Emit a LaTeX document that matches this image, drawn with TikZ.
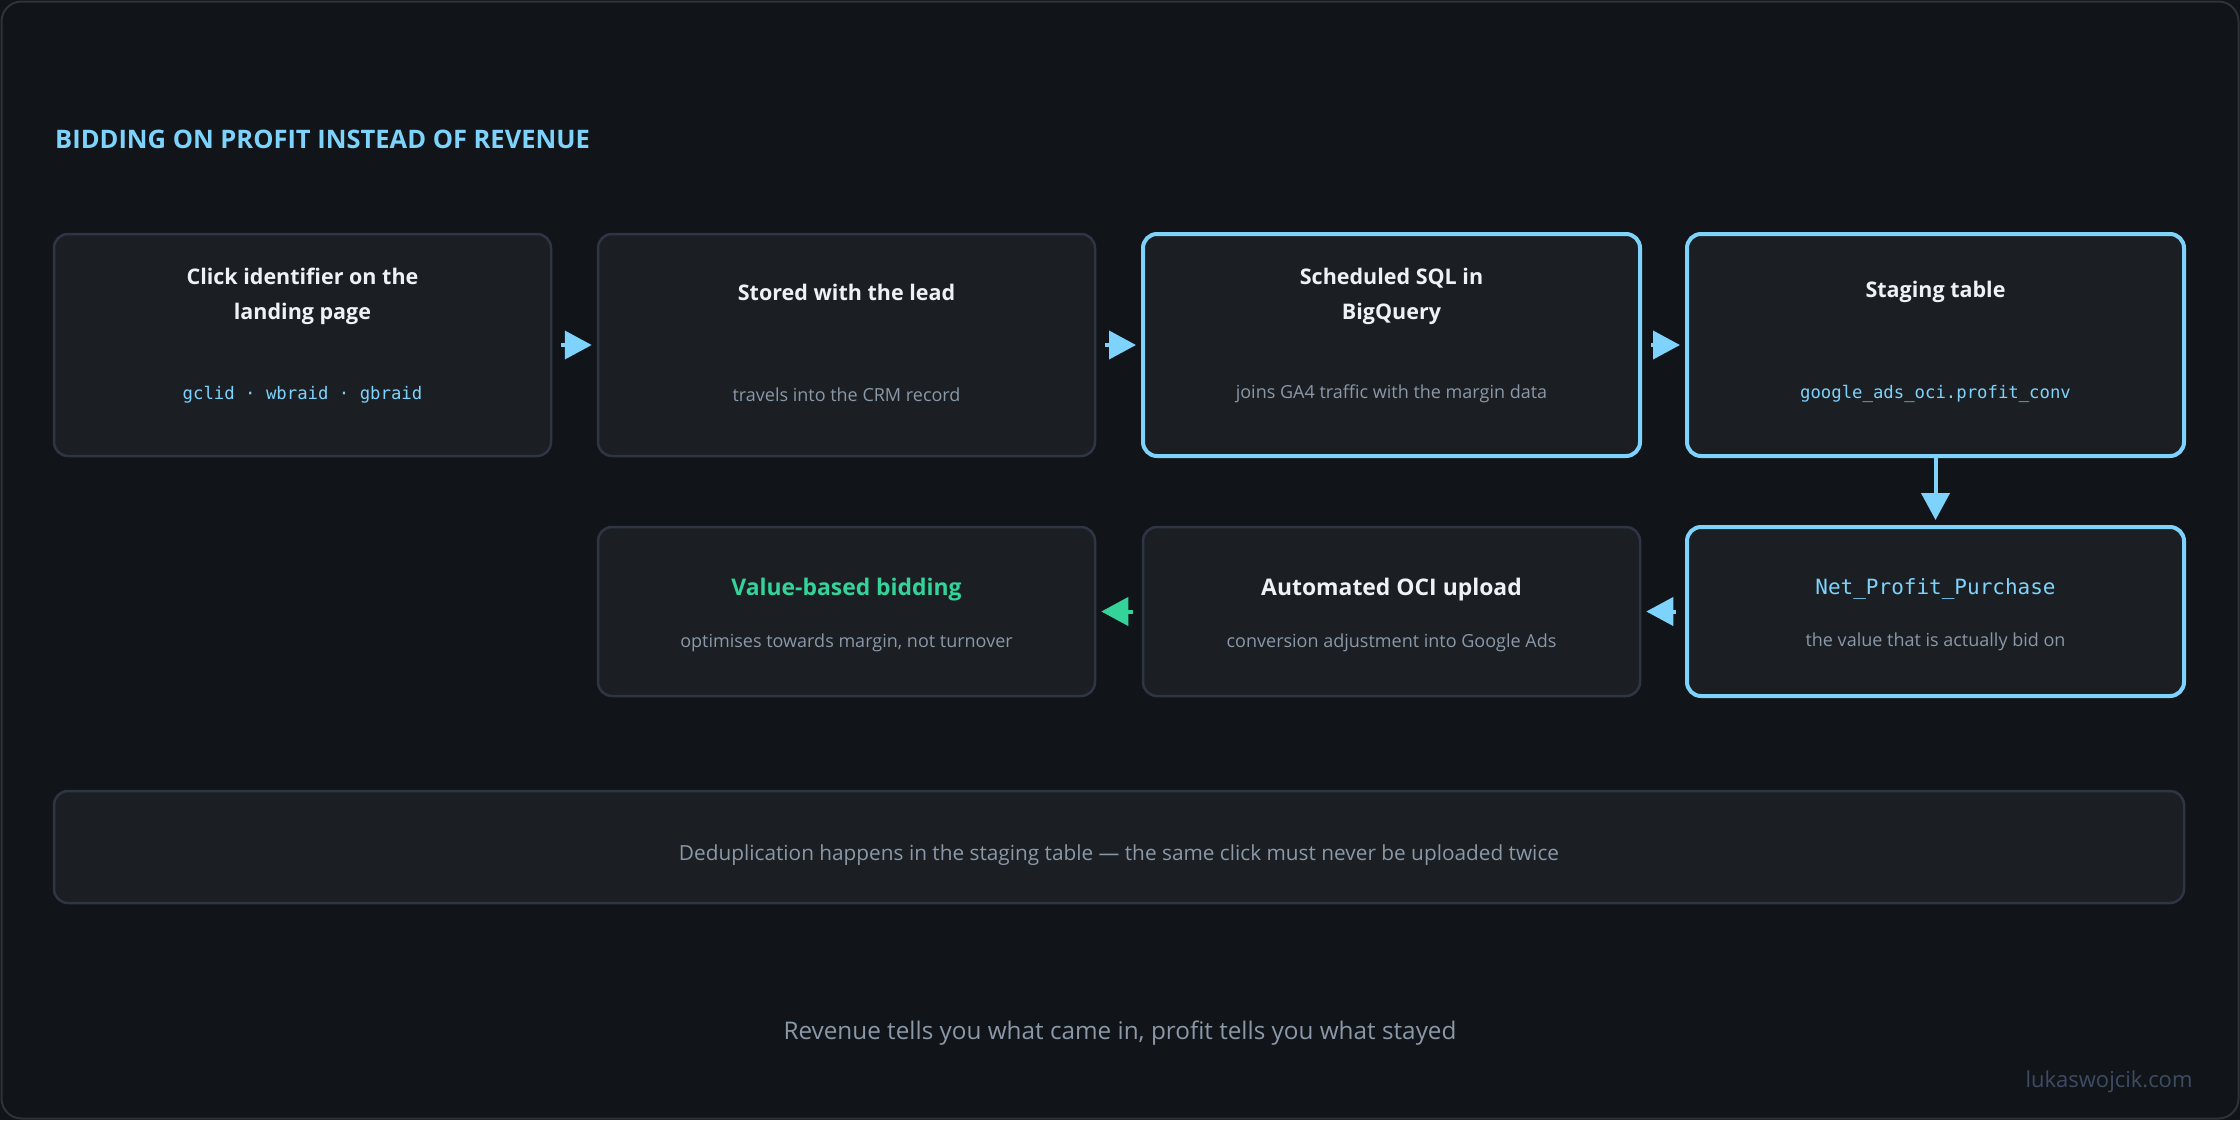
\documentclass[tikz,border=0pt]{standalone}
\usepackage{fontspec}
\setmainfont{Open Sans}
\newfontfamily\codefont{DejaVu Sans Mono}
\usetikzlibrary{arrows.meta}
% 配色
\definecolor{pagebg}{HTML}{111418}
\definecolor{framecol}{HTML}{2D333B}
\definecolor{cardbg}{HTML}{1B1F23}
\definecolor{cardline}{HTML}{2E3646}
\definecolor{sky}{HTML}{7DD3FC}
\definecolor{mint}{HTML}{34D399}
\definecolor{ink}{HTML}{EEF2F6}
\definecolor{muted}{HTML}{8B98A8}
\definecolor{faint}{HTML}{3E4C63}
\begin{document}
\begin{tikzpicture}[x=1pt,y=-1pt,
    card/.style={draw=cardline,line width=2.5pt,fill=cardbg,rounded corners=14pt,
      minimum width=497pt,minimum height=222pt,inner sep=0pt},
    hotcard/.style={card,draw=sky,line width=4pt},
    lowrow/.style={minimum height=169pt},
    head/.style={text=ink,font=\bfseries\fontsize{21.5}{35}\selectfont,align=center},
    bighead/.style={head,font=\bfseries\fontsize{22.9}{35}\selectfont},
    note/.style={text=muted,font=\fontsize{18}{22}\selectfont},
    code/.style={text=sky,font=\codefont\fontsize{17.3}{20}\selectfont},
    flow/.style={draw=sky,line width=4pt,-{Triangle[length=27pt,width=28pt]},
      shorten <=9pt,shorten >=5pt}]
    % 背景与外框
    \useasboundingbox (0,0) rectangle (2240,1120);
    \fill[pagebg] (0,0) rectangle (2240,1120);
    \draw[framecol,line width=2pt,rounded corners=20pt] (1.5,1.5) rectangle (2238.5,1118.5);

    \node[anchor=west,inner sep=0pt,text=sky,font=\bfseries\fontsize{25.5}{30}\selectfont] (title) at (55,139)
        {BIDDING ON PROFIT INSTEAD OF REVENUE};

    % 第一行
    \node[card] (click) at (302.5,345) {};
    \node[card] (stored) at (846.5,345) {};
    \node[hotcard] (sql) at (1391.5,345) {};
    \node[hotcard] (staging) at (1935.5,345) {};
    % 第二行
    \node[card,lowrow] (bidding) at (846.5,611.5) {};
    \node[card,lowrow] (upload) at (1391.5,611.5) {};
    \node[hotcard,lowrow] (netprofit) at (1935.5,611.5) {};

    \node[head] (click-h) at ([yshift=-64pt]click.north) {Click identifier on the\\landing page};
    \node[code] (click-s) at ([yshift=-162pt]click.north) {gclid · wbraid · gbraid};
    \node[head] (stored-h) at ([yshift=-60pt]stored.north) {Stored with the lead};
    \node[note] (stored-s) at ([yshift=-162pt]stored.north) {travels into the CRM record};
    \node[head] (sql-h) at ([yshift=-64pt]sql.north) {Scheduled SQL in\\BigQuery};
    \node[note] (sql-s) at ([yshift=-162pt]sql.north) {joins GA4 traffic with the margin data};
    \node[head] (staging-h) at ([yshift=-60pt]staging.north) {Staging table};
    \node[code] (staging-s) at ([yshift=-162pt]staging.north) {google\_ads\_oci.profit\_conv};

    \node[bighead,text=mint] (bidding-h) at ([yshift=-64pt]bidding.north) {Value-based bidding};
    \node[note] (bidding-s) at ([yshift=-117pt]bidding.north) {optimises towards margin, not turnover};
    \node[bighead] (upload-h) at ([yshift=-64pt]upload.north) {Automated OCI upload};
    \node[note] (upload-s) at ([yshift=-117pt]upload.north) {conversion adjustment into Google Ads};
    \node[code,font=\codefont\fontsize{21}{24}\selectfont] (netprofit-h) at ([yshift=-64pt]netprofit.north)
        {Net\_Profit\_Purchase};
    \node[note] (netprofit-s) at ([yshift=-117pt]netprofit.north) {the value that is actually bid on};

    % 箭头
    \draw[flow] (click) -- (stored);
    \draw[flow] (stored) -- (sql);
    \draw[flow] (sql) -- (staging);
    \draw[flow,shorten <=0pt] (staging) -- (netprofit);
    \draw[flow] (netprofit) -- (upload);
    \draw[flow,draw=mint] (upload) -- (bidding);

    % 底部说明
    \node[card,minimum width=2130pt,minimum height=112pt] (dedup) at (1119,847) {};
    \node[text=muted,font=\fontsize{20.8}{24}\selectfont] (dedup-t) at ([yshift=-8pt]dedup.center)
        {Deduplication happens in the staging table — the same click must never be uploaded twice};

    \node[text=muted,font=\fontsize{24.3}{28}\selectfont] (footer) at (1120,1033)
        {Revenue tells you what came in, profit tells you what stayed};
    \node[anchor=east,text=faint,font=\fontsize{22}{26}\selectfont] (site) at (2196,1082) {lukaswojcik.com};
\end{tikzpicture}
\end{document}
